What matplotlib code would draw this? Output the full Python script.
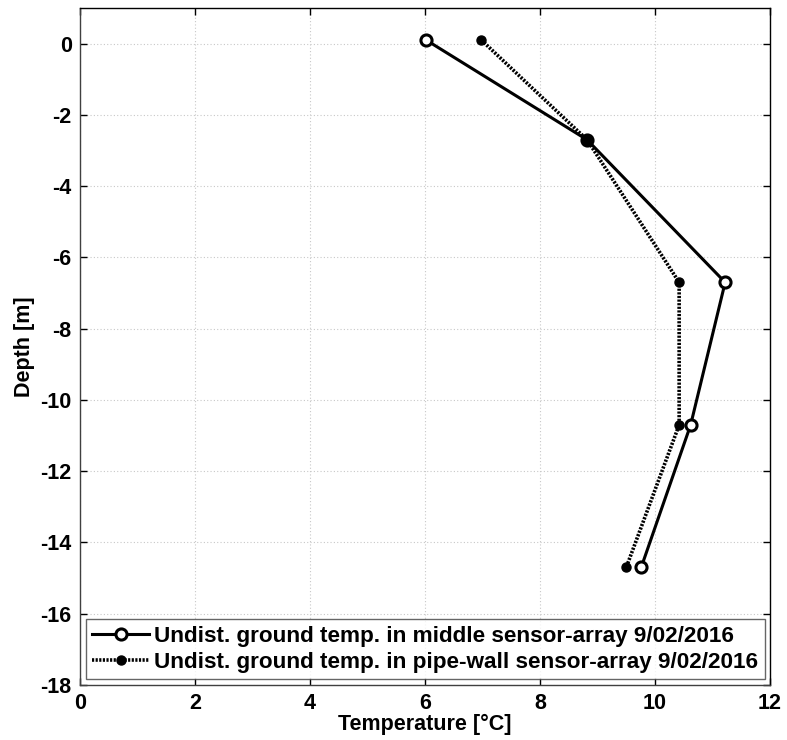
import matplotlib
matplotlib.use("Agg")
import matplotlib.pyplot as plt

plt.rcParams['font.family'] = ['Liberation Sans', 'DejaVu Sans']
plt.rcParams['font.weight'] = 'bold'
plt.rcParams['axes.unicode_minus'] = False

depth = [0.1, -2.7, -6.7, -10.7, -14.7]
temp_middle = [6.02, 8.82, 11.22, 10.62, 9.76]
temp_pipe = [6.98, 8.82, 10.42, 10.42, 9.5]
label_middle = "Undist. ground temp. in middle sensor-array 9/02/2016"
label_pipe = "Undist. ground temp. in pipe-wall sensor-array 9/02/2016"
xticks = [0, 2, 4, 6, 8, 10, 12]
yticks = [0, -2, -4, -6, -8, -10, -12, -14, -16, -18]

FS = 15.5
fig = plt.figure(figsize=(7.87, 7.40), dpi=100)
ax = fig.add_axes([80/787, 1-685/740, 690/787, 677/740])

ax.plot(temp_middle, depth, color='black', lw=2.2, marker='o', ms=8,
        mfc='white', mec='black', mew=2.2, label=label_middle, zorder=3)
ax.plot(temp_pipe, depth, color='black', lw=2.6, ls=(0, (0.6, 0.4)), marker='o', ms=6.5,
        mfc='black', mec='black', label=label_pipe, zorder=4)

ax.set_xlim(0, 12)
ax.set_ylim(-18, 1)
ax.set_xticks(xticks)
ax.set_yticks(yticks)
ax.tick_params(direction='in', top=True, right=True, labelsize=FS, length=5, width=1, pad=6)
for lab in ax.get_xticklabels() + ax.get_yticklabels():
    lab.set_fontweight('bold')
ax.grid(True, color='#c8c8c8', ls=(0, (1, 2)), lw=0.8)
for s in ['left', 'bottom']:
    ax.spines[s].set_color('#404040')
for s in ax.spines.values():
    s.set_linewidth(1.0)

ax.set_xlabel('Temperature [°C]', fontsize=FS, fontweight='bold', labelpad=0)
ax.set_ylabel('Depth [m]', fontsize=FS, fontweight='bold', labelpad=4)

leg = ax.legend(loc='lower left', fontsize=16.2, frameon=True, fancybox=False,
                edgecolor='#404040', borderpad=0.3, handlelength=2.5, handletextpad=0.25,
                labelspacing=0.2, borderaxespad=0.25)
leg.get_frame().set_linewidth(1.0)
for t in leg.get_texts():
    t.set_fontweight('bold')

fig.savefig('out.png', dpi=100)
